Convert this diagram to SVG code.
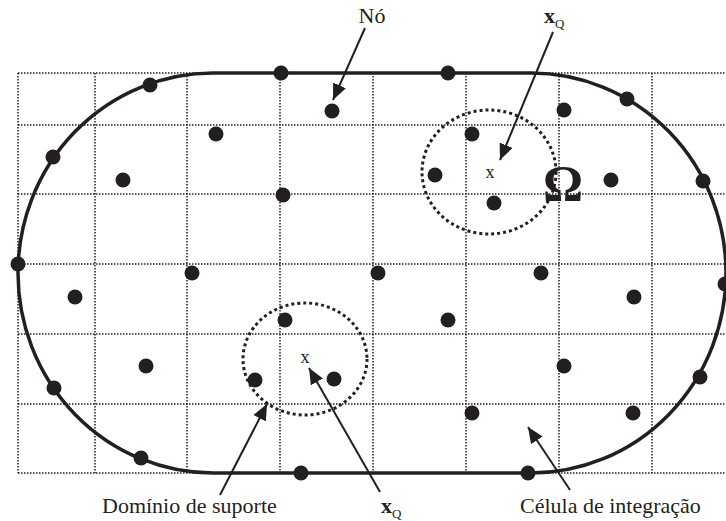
<svg xmlns="http://www.w3.org/2000/svg" width="726" height="521" viewBox="0 0 726 521">
<style>
.grid{stroke:#231f20;stroke-width:1.5;stroke-dasharray:1.5 1.5;fill:none}
.bnd{stroke:#231f20;stroke-width:3.5;fill:none}
.sup{stroke:#231f20;stroke-width:3;stroke-dasharray:3 3;fill:none}
.node{fill:#231f20}
.arr{stroke:#231f20;stroke-width:2;fill:none;marker-end:url(#ah)}
.lbl{font-family:"Liberation Serif","Times New Roman",serif;fill:#231f20}
</style>
<defs>
<marker id="ah" markerUnits="userSpaceOnUse" markerWidth="18" markerHeight="14" refX="16" refY="7" orient="auto">
<path d="M0,0 L16,7 L0,14 Z" fill="#231f20"/>
</marker>
</defs>
<g id="grid">
<path class="grid" d="M18,73V473M95,73V473M187,73V473M280,73V473M373,73V473M466,73V473M559,73V473M652,73V473"/>
<path class="grid" d="M18,73H726M18,125H726M18,194H726M18,264H726M18,334H726M18,404H726M18,473H726"/>
</g>
<g id="domain">
<path class="bnd" d="M213,73 L531,73 A195,200 0 0 1 531,473 L213,473 A195,200 0 0 1 213,73 Z"/>
<text class="lbl" x="563" y="200" font-size="50" font-weight="bold" text-anchor="middle">Ω</text>
</g>
<g id="nodes" class="node">
<circle cx="150" cy="85" r="7.5"/><circle cx="281" cy="73" r="7.5"/><circle cx="448" cy="73" r="7.5"/>
<circle cx="627" cy="99" r="7.5"/><circle cx="703" cy="181" r="7.5"/><circle cx="725" cy="284" r="7.5"/>
<circle cx="700" cy="377" r="7.5"/><circle cx="528" cy="473" r="7.5"/><circle cx="301" cy="473" r="7.5"/>
<circle cx="141" cy="458" r="7.5"/><circle cx="54" cy="388" r="7.5"/><circle cx="18" cy="264" r="7.5"/>
<circle cx="53" cy="157" r="7.5"/>
<circle cx="332" cy="111" r="7.5"/><circle cx="564" cy="110" r="7.5"/><circle cx="216" cy="134" r="7.5"/>
<circle cx="472" cy="134" r="7.5"/><circle cx="123" cy="180" r="7.5"/><circle cx="283" cy="195" r="7.5"/>
<circle cx="435" cy="175" r="7.5"/><circle cx="494" cy="203" r="7.5"/><circle cx="611" cy="180" r="7.5"/>
<circle cx="192" cy="273" r="7.5"/><circle cx="378" cy="273" r="7.5"/><circle cx="541" cy="273" r="7.5"/>
<circle cx="75" cy="297" r="7.5"/><circle cx="634" cy="297" r="7.5"/><circle cx="285" cy="320" r="7.5"/>
<circle cx="448" cy="320" r="7.5"/><circle cx="146" cy="366" r="7.5"/><circle cx="564" cy="366" r="7.5"/>
<circle cx="255" cy="380" r="7.5"/><circle cx="334" cy="379" r="7.5"/><circle cx="472" cy="413" r="7.5"/>
<circle cx="633" cy="413" r="7.5"/>
</g>
<g id="support-upper">
<ellipse class="sup" cx="489" cy="172" rx="67" ry="62"/>
<text class="lbl" x="490" y="178" font-size="18" text-anchor="middle">x</text>
</g>
<g id="support-lower">
<ellipse class="sup" cx="305" cy="359" rx="62" ry="56"/>
<text class="lbl" x="305" y="363" font-size="18" text-anchor="middle">x</text>
</g>
<g id="connectors">
<line class="arr" x1="365" y1="28" x2="333" y2="100"/>
<line class="arr" x1="553" y1="32" x2="500" y2="160"/>
<line class="arr" x1="380" y1="492" x2="309" y2="368"/>
<line class="arr" x1="220" y1="495" x2="267" y2="404"/>
<line class="arr" x1="570" y1="490" x2="528" y2="427"/>
</g>
<g id="labels" class="lbl">
<text x="372" y="23" font-size="22" text-anchor="middle">Nó</text>
<text x="544" y="23" font-size="22" font-weight="bold">x<tspan font-size="13" font-weight="normal" dy="5">Q</tspan></text>
<text x="381" y="513" font-size="22" font-weight="bold">x<tspan font-size="13" font-weight="normal" dy="5">Q</tspan></text>
<text x="102" y="513" font-size="22">Domínio de suporte</text>
<text x="520" y="513" font-size="22">Célula de integração</text>
</g>
</svg>
